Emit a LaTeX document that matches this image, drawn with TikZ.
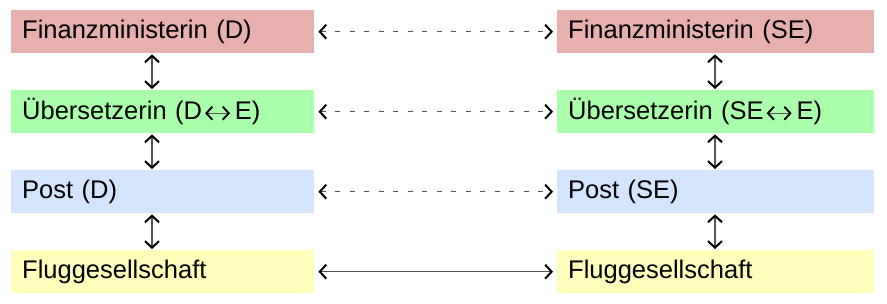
\documentclass[tikz,border=0pt]{standalone}
\usepackage{fontspec}
\setmainfont{Liberation Sans}
\usetikzlibrary{arrows.meta,calc}
\definecolor{cred}{HTML}{E8AFAF}
\definecolor{cgreen}{HTML}{AAFFAA}
\definecolor{cblue}{HTML}{D4E4FC}
\definecolor{cyellow}{HTML}{FFFFBB}
\definecolor{cline}{HTML}{555555}
\tikzset{
  tipb/.tip={Straight Barb[length=6.5pt,width=14pt,line width=2pt,color=black]},
  box/.style={rectangle, anchor=north west, minimum width=303pt, minimum height=43pt,
    text width=281pt, inner xsep=11pt, inner ysep=0pt, align=left,
    font=\fontsize{25.5}{28}\selectfont},
  conn/.style={draw=cline, line width=1.4pt, tipb-tipb},
  dconn/.style={conn, dash pattern=on 5pt off 9.5pt},
}
\newcommand{\myarr}{\tikz[baseline=0pt,x=1pt,y=1pt]\draw[draw=cline, line width=1.3pt,
  {Straight Barb[length=6pt,width=13pt,line width=1.9pt,color=black]}-{Straight Barb[length=6pt,width=13pt,line width=1.9pt,color=black]}] (0,6.5) -- (25,6.5);}
\begin{document}
\begin{tikzpicture}[x=1pt,y=-1pt]
\useasboundingbox (0,0) rectangle (887,304);
\node[box, fill=cred] (f1) at (11,10) {Finanzministerin (D)};
\node[box, fill=cgreen] (u1) at (11,90) {Übersetzerin (D\kern2pt\myarr\kern4pt E)};
\node[box, fill=cblue] (p1) at (11,170) {Post (D)};
\node[box, fill=cyellow] (g1) at (11,250) {Fluggesellschaft};
\node[box, fill=cred, minimum width=317pt, text width=295pt] (f2) at (557,10) {Finanzministerin (SE)};
\node[box, fill=cgreen, minimum width=317pt, text width=295pt] (u2) at (557,90) {Übersetzerin (SE\kern2pt\myarr\kern4pt E)};
\node[box, fill=cblue, minimum width=317pt, text width=295pt] (p2) at (557,170) {Post (SE)};
\node[box, fill=cyellow, minimum width=317pt, text width=295pt] (g2) at (557,250) {Fluggesellschaft};
\coordinate (lx) at (152,0);
\coordinate (rx) at (715,0);
\foreach \a/\b in {f1/u1,u1/p1,p1/g1}{
  \draw[conn, shorten <=1pt, shorten >=1pt] (\a.south -| lx) -- (\b.north -| lx);
}
\foreach \a/\b in {f2/u2,u2/p2,p2/g2}{
  \draw[conn, shorten <=1pt, shorten >=1pt] (\a.south -| rx) -- (\b.north -| rx);
}
\foreach \a/\b in {f1/f2,u1/u2,p1/p2}{
  \draw[dconn, shorten <=4pt, shorten >=4pt] (\a.east) -- (\b.west);
}
\draw[conn, shorten <=4pt, shorten >=4pt] (g1.east) -- (g2.west);
\end{tikzpicture}
\end{document}
